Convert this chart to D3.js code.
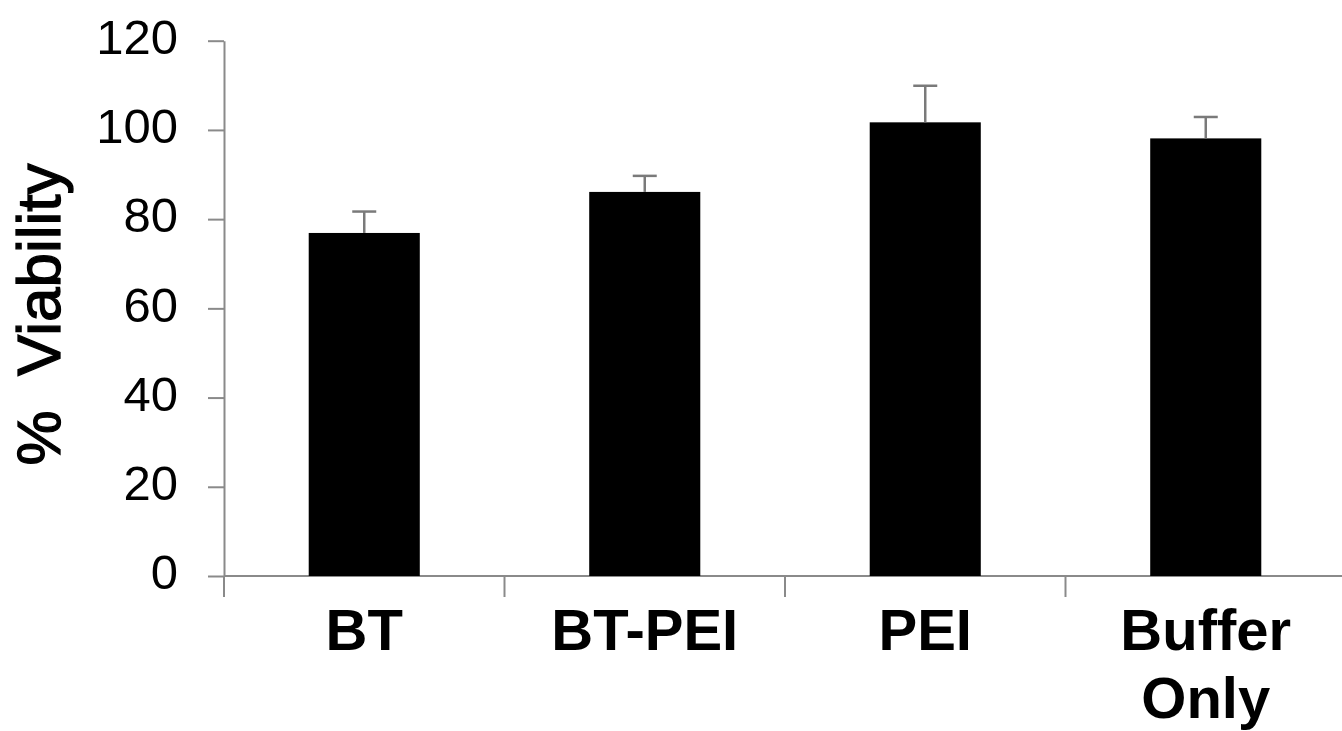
<!DOCTYPE html>
<html>
<head>
<meta charset="utf-8">
<script src="https://cdn.jsdelivr.net/npm/d3@7"></script>
<style>
  html, body { margin: 0; padding: 0; background: #fff; }
  svg { display: block; }
</style>
</head>
<body>
<svg id="chart" width="1342" height="731"></svg>
<script>
const categories = ["BT", "BT-PEI", "PEI", "Buffer Only"];
const categoryLines = [["BT"], ["BT-PEI"], ["PEI"], ["Buffer", "Only"]];
const viability = [76.9, 86.1, 101.7, 98.1];
const errors = [4.8, 3.6, 8.2, 4.8];
const yTicks = [0, 20, 40, 60, 80, 100, 120];
const yTitle = "%  Viability";

const svg = d3.select("#chart");
const plotLeft = 224, plotRight = 1346, plotTop = 40.7, plotBottom = 576;

const x = d3.scaleBand()
  .domain(categories)
  .range([plotLeft, plotRight])
  .paddingInner(0.604)
  .paddingOuter(0.302);

const y = d3.scaleLinear().domain([0, 120]).range([plotBottom, plotTop]);

const axisColor = "#8a8a8a";

// Y axis
const yAxis = d3.axisLeft(y)
  .tickValues(yTicks)
  .tickSize(16)
  .tickSizeOuter(0)
  .tickPadding(30)
  .tickFormat(d3.format("d"));
const yg = svg.append("g").attr("transform", `translate(${plotLeft},0)`).call(yAxis);
yg.select(".domain").attr("stroke", axisColor).attr("stroke-width", 2);
yg.selectAll(".tick line").attr("stroke", axisColor).attr("stroke-width", 2);
yg.selectAll(".tick text")
  .attr("font-family", "Liberation Sans, Arial, sans-serif")
  .attr("font-size", 49)
  .attr("fill", "#000")
  .attr("dy", "0.26em");

// X axis line
svg.append("line")
  .attr("x1", plotLeft).attr("x2", 1342)
  .attr("y1", plotBottom).attr("y2", plotBottom)
  .attr("stroke", axisColor).attr("stroke-width", 2);

// Category boundary ticks
const step = x.step();
const boundaries = categories.map(c => x(c) - step * x.paddingInner() / 2);
boundaries.push(boundaries[boundaries.length - 1] + step);
svg.append("g").selectAll("line").data(boundaries).join("line")
  .attr("x1", d => d).attr("x2", d => d)
  .attr("y1", plotBottom).attr("y2", plotBottom + 21)
  .attr("stroke", axisColor).attr("stroke-width", 2);

// Bars
svg.append("g").selectAll("rect").data(categories).join("rect")
  .attr("x", c => x(c))
  .attr("width", x.bandwidth())
  .attr("y", (c, i) => y(viability[i]))
  .attr("height", (c, i) => y(0) - y(viability[i]))
  .attr("fill", "#000");

// Error bars (upper)
const eg = svg.append("g").attr("stroke", "#7a7a7a").attr("stroke-width", 2.5);
categories.forEach((c, i) => {
  const cx = x(c) + x.bandwidth() / 2;
  eg.append("line")
    .attr("x1", cx).attr("x2", cx)
    .attr("y1", y(viability[i])).attr("y2", y(viability[i] + errors[i]));
  eg.append("line")
    .attr("x1", cx - 12).attr("x2", cx + 12)
    .attr("y1", y(viability[i] + errors[i])).attr("y2", y(viability[i] + errors[i]));
});

// Category labels
const lg = svg.append("g")
  .attr("font-family", "Liberation Sans, Arial, sans-serif")
  .attr("font-size", 58)
  .attr("font-weight", "bold")
  .attr("text-anchor", "middle")
  .attr("fill", "#000");
categories.forEach((c, i) => {
  const t = lg.append("text")
    .attr("x", x(c) + x.bandwidth() / 2)
    .attr("y", 650);
  categoryLines[i].forEach((line, j) => {
    t.append("tspan")
      .attr("x", x(c) + x.bandwidth() / 2)
      .attr("dy", j === 0 ? 0 : 68)
      .text(line);
  });
});

// Y title
svg.append("text")
  .attr("transform", `translate(60,${(162 + 467) / 2}) rotate(-90)`)
  .attr("text-anchor", "middle")
  .attr("font-family", "Liberation Sans, Arial, sans-serif")
  .attr("font-size", 62)
  .attr("fill", "#000")
  .attr("stroke", "#000")
  .attr("stroke-width", 1.3)
  .style("white-space", "pre")
  .text(yTitle);
</script>
</body>
</html>
